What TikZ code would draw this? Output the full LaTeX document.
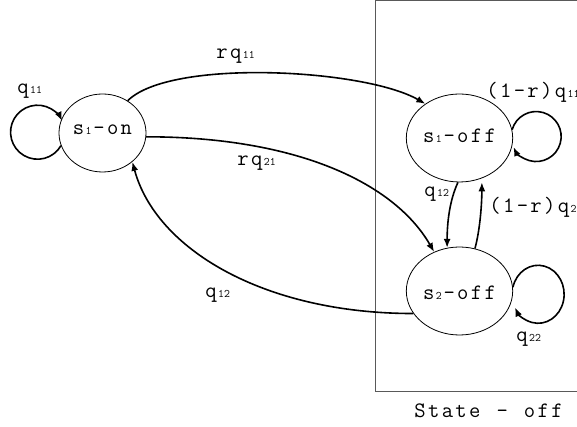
\documentclass[tikz,border=0pt]{standalone}
\usepackage{fontspec}
\usetikzlibrary{shapes.geometric,arrows.meta}
\newcommand\sbs[1]{{\fontsize{11.5}{12}\selectfont\hbox to 0.3pt{}#1\hbox to 0.5pt{}}}
\def\mspc#1{\ifx#1\relax\else\hbox to 13.7pt{\hss#1\hss}\expandafter\mspc\fi}
\tikzset{
  txt/.style={font=\ttfamily\fontsize{22}{25}\selectfont},
  state/.style={draw, ellipse, line width=0.8pt, inner sep=0pt, text depth=0pt, txt},
  lab/.style={txt, anchor=base west, inner sep=0pt},
  arr/.style={line width=1.6pt, -{Latex[length=9pt,width=7pt]}},
}
\begin{document}
\begin{tikzpicture}[x=1pt,y=1pt]
\useasboundingbox (0,0) rectangle (577,427);
\clip (0,0) rectangle (577,427);
\draw[line width=1pt, black!65] (375,35) rectangle (620,426);
\node[state, minimum width=84pt, minimum height=78pt, text height=4pt] (on) at (102.5,294) {\mspc s\relax\sbs{1}\mspc -on\relax};
\node[state, minimum width=97pt, minimum height=88pt, text height=10pt] (off1) at (459.5,289) {\mspc s\relax\sbs{1}\mspc -off\relax};
\node[state, minimum width=97pt, minimum height=88pt, text height=17pt] (off2) at (459.5,136) {\mspc s\relax\sbs{2}\mspc -off\relax};
% self loops
\draw[arr] (on.197) arc[start angle=-30, end angle=-335, radius=27];
\draw[arr] (off1.9) arc[start angle=164, end angle=-155, radius=25];
\draw[arr] (off2.4) arc[start angle=166, end angle=-153, x radius=26, y radius=29];
% transitions
\draw[arr] (on.52) .. controls +(45:60) and +(150:70) .. (off1.135);
\draw[arr] (on.-5) .. controls +(0:150) and +(120:80) .. (off2.123);
\draw[arr] (off2.206) .. controls +(180:150) and +(-75:90) .. (on.-44);
\draw[arr] (off1.-92) .. controls +(-115:20) and +(90:25) .. (off2.106);
\draw[arr, shorten >=4pt] (off2.70) .. controls +(75:20) and +(-90:25) .. (off1.-61);
% labels
\node[lab] (l1) at (16,333) {\mspc q\relax\sbs{11}};
\node[lab] (l2) at (215,368) {\mspc rq\relax\sbs{11}};
\node[lab] (l3) at (236,261) {\mspc rq\relax\sbs{21}};
\node[lab] (l4) at (204,129) {\mspc q\relax\sbs{12}};
\node[lab] (l5) at (423,230) {\mspc q\relax\sbs{12}};
\node[lab] (l6) at (485,329) {\mspc (1-r)q\relax\sbs{11}};
\node[lab] (l7) at (488,214) {\mspc (1-r)q\relax\sbs{2}};
\node[lab] (l8) at (515,85) {\mspc q\relax\sbs{22}};
\node[lab] (l9) at (413,9) {\mspc State~-~off\relax};
\end{tikzpicture}
\end{document}
